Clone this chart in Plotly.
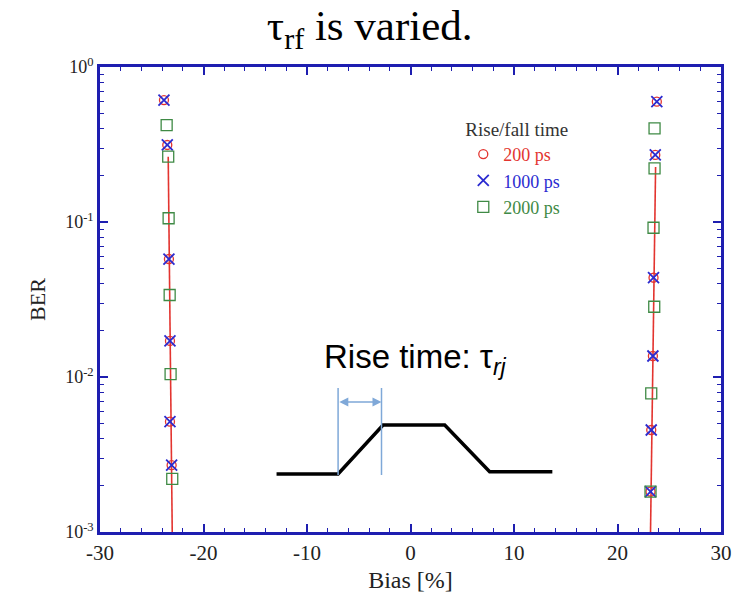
import plotly.graph_objects as go

# ---- data ----
bias_200_left = [-23.82, -23.50, -23.34, -23.24, -23.24, -23.08]
ber_200_left = [0.612, 0.314, 0.0577, 0.0171, 0.00515, 0.00270]
bias_200_right = [23.80, 23.65, 23.48, 23.42, 23.26, 23.19]
ber_200_right = [0.597, 0.271, 0.0437, 0.01366, 0.00455, 0.00182]

bias_1000_left = [-23.82, -23.50, -23.34, -23.24, -23.24, -23.08]
ber_1000_left = [0.612, 0.314, 0.0577, 0.0171, 0.00515, 0.00270]
bias_1000_right = [23.80, 23.65, 23.48, 23.42, 23.26, 23.19]
ber_1000_right = [0.597, 0.271, 0.0437, 0.01366, 0.00455, 0.00182]

bias_2000_left = [-23.56, -23.41, -23.37, -23.27, -23.18, -23.02]
ber_2000_left = [0.422, 0.264, 0.1057, 0.0338, 0.01045, 0.0022]
bias_2000_right = [23.58, 23.58, 23.48, 23.55, 23.26, 23.19]
ber_2000_right = [0.402, 0.222, 0.0918, 0.0284, 0.00785, 0.00182]

fit_bias_left = [-23.41, -23.02]
fit_ber_left = [0.264, 0.001]
fit_bias_right = [23.68, 23.19]
fit_ber_right = [0.226, 0.001]

x_ticks = [-30, -20, -10, 0, 10, 20, 30]
y_ticks = [1e-3, 1e-2, 1e-1, 1]
y_ticktext = ["10<sup>-3</sup>", "10<sup>-2</sup>", "10<sup>-1</sup>", "10<sup>0</sup>"]
y_minor = [k * 10 ** e for e in (-3, -2, -1) for k in range(2, 10)]

# inset sketch (paper coordinates)
pulse_x = [0.2843, 0.3834, 0.4558, 0.5551, 0.6275, 0.7284]
pulse_y = [0.1247, 0.1247, 0.2301, 0.2301, 0.1297, 0.1297]

SERIF = "Liberation Serif"
SANS = "Liberation Sans"
RED = "#e3342f"
BLUE = "#2b2bd0"
GREEN = "#3f8a45"
FRAME = "#1e1eb0"

fig = go.Figure()

# fit lines
for bx, by in ((fit_bias_left, fit_ber_left), (fit_bias_right, fit_ber_right)):
    fig.add_trace(go.Scatter(x=bx, y=by, mode="lines",
                             line=dict(color=RED, width=1.6),
                             showlegend=False, hoverinfo="skip"))

# markers
fig.add_trace(go.Scatter(x=bias_200_left + bias_200_right, y=ber_200_left + ber_200_right,
                         mode="markers", name="<span style='color:#e3342f'>200 ps</span>",
                         marker=dict(symbol="circle-open", size=9, color=RED, line=dict(width=1.3))))
fig.add_trace(go.Scatter(x=bias_1000_left + bias_1000_right, y=ber_1000_left + ber_1000_right,
                         mode="markers", name="<span style='color:#2b2bd0'>1000 ps</span>",
                         marker=dict(symbol="x-thin-open", size=11, color=BLUE, line=dict(width=1.8, color=BLUE))))
fig.add_trace(go.Scatter(x=bias_2000_left + bias_2000_right, y=ber_2000_left + ber_2000_right,
                         mode="markers", name="<span style='color:#3f8a45'>2000 ps</span>",
                         marker=dict(symbol="square-open", size=11, color=GREEN, line=dict(width=1.3))))

# inset pulse sketch
path = "M " + " L ".join(f"{x},{y}" for x, y in zip(pulse_x, pulse_y))
fig.add_shape(type="path", path=path, xref="paper", yref="paper",
              line=dict(color="black", width=3.5))
for vx in (pulse_x[1], 0.4533):
    fig.add_shape(type="line", xref="paper", yref="paper", x0=vx, x1=vx, y0=0.1226, y1=0.3097,
                  line=dict(color="#7fa8d8", width=1.5))
fig.add_annotation(xref="paper", yref="paper", x=0.4533, y=0.2796, ax=-43.7, ay=0,
                   showarrow=True, arrowside="end+start", arrowhead=2, arrowsize=1.2,
                   arrowwidth=1.5, arrowcolor="#7fa8d8", text="")
fig.add_annotation(xref="paper", yref="paper", x=0.508, y=0.372, showarrow=False,
                   text="Rise time: τ<sub><i>rj</i></sub>",
                   font=dict(family=SANS, size=33, color="black"))

axis_common = dict(showline=True, linecolor=FRAME, linewidth=2.5, mirror="allticks",
                   ticks="inside", tickcolor=FRAME, tickwidth=1.5, ticklen=8,
                   showgrid=False, zeroline=False, automargin=False)

fig.update_xaxes(range=[-30, 30], tickvals=x_ticks, ticktext=[str(v) for v in x_ticks],
                 minor=dict(ticks="inside", dtick=2, ticklen=4, tickcolor=FRAME, tickwidth=1.2),
                 tickfont=dict(family=SERIF, size=21, color="#222"),
                 title=dict(text="Bias [%]", font=dict(family=SERIF, size=24, color="#222"), standoff=8),
                 **axis_common)
fig.update_yaxes(type="log", range=[-3, 0], tickvals=y_ticks, ticktext=y_ticktext,
                 minor=dict(ticks="inside", tickvals=y_minor, ticklen=4, tickcolor=FRAME, tickwidth=1.2),
                 tickfont=dict(family=SERIF, size=18, color="#222"),
                 title=dict(text="BER", font=dict(family=SERIF, size=22, color="#222"), standoff=14),
                 **axis_common)

fig.update_layout(
    width=735, height=598,
    margin=dict(l=100, r=14, t=67, b=66),
    paper_bgcolor="white", plot_bgcolor="white",
    title=dict(text="τ<sub>rf</sub> is varied.", x=0.503, xref="container", xanchor="center",
               y=0.958, yref="container", yanchor="middle",
               font=dict(family=SERIF, size=43, color="black")),
    legend=dict(x=0.585, y=0.905, xanchor="left", yanchor="top", bgcolor="rgba(0,0,0,0)",
                title=dict(text="Rise/fall time", font=dict(family=SERIF, size=19, color="#333")),
                font=dict(family=SERIF, size=18), itemwidth=30, tracegroupgap=0),
    showlegend=True,
)

fig.write_html("out.html")
